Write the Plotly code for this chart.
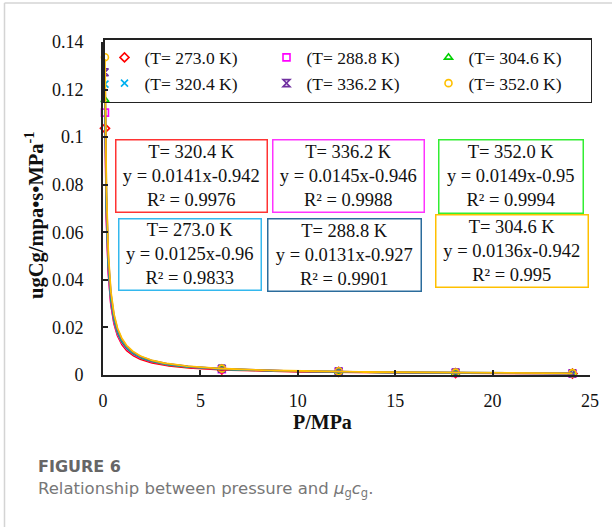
import numpy as np
import plotly.graph_objects as go

# ---------------- data ----------------
temperatures = ["273.0", "288.8", "304.6", "320.4", "336.2", "352.0"]
pressure = [0.1, 6.1, 12.1, 18.1, 24.1]
mu_c_273 = [0.1037, 0.0023, 0.0013, 0.0008, 0.0006]
mu_c_288 = [0.1103, 0.0024, 0.0014, 0.0009, 0.0006]
mu_c_304 = [0.1156, 0.0025, 0.0014, 0.0009, 0.0007]
mu_c_320 = [0.1223, 0.0026, 0.0015, 0.0010, 0.0007]
mu_c_336 = [0.1273, 0.0027, 0.0015, 0.0010, 0.0007]
mu_c_352 = [0.1336, 0.0027, 0.0016, 0.0010, 0.0008]
series_values = [mu_c_273, mu_c_288, mu_c_304, mu_c_320, mu_c_336, mu_c_352]

# power-law trendline fits shown in the chart (y = a * x^b)
fit_a = [0.0125, 0.0131, 0.0136, 0.0141, 0.0145, 0.0149]
fit_b = [-0.96, -0.927, -0.942, -0.942, -0.946, -0.95]
fit_r2 = ["0.9833", "0.9901", "0.995", "0.9976", "0.9988", "0.9994"]
fit_b_text = ["-0.96", "-0.927", "-0.942", "-0.942", "-0.946", "-0.95"]

x_ticks = [0, 5, 10, 15, 20, 25]
y_ticks = [0, 0.02, 0.04, 0.06, 0.08, 0.1, 0.12, 0.14]

# ---------------- styles ----------------
colors = ["#FF0000", "#FF00FF", "#00D000", "#00B0F0", "#7030A0", "#FFC000"]
symbols = ["diamond-open", "square-open", "triangle-up-open", "x-thin-open",
           "hourglass-open", "circle-open"]

SERIF = "Liberation Serif"
W, H = 612, 527
L, R, T, B = 103, 22, 42, 152
PW, PH = W - L - R, H - T - B


def px_x(px):
    return (px - L) / PW


def px_y(py):
    return (H - B - py) / PH


fig = go.Figure()

for i, t in enumerate(temperatures):
    fig.add_trace(go.Scatter(
        x=pressure, y=series_values[i], mode="markers",
        name=f"(T= {t} K)",
        marker=dict(symbol=symbols[i], size=7, color=colors[i],
                    line=dict(width=1.6, color=colors[i])),
        cliponaxis=False,
    ))

xs = np.geomspace(pressure[0], pressure[-1], 300)
for i, t in enumerate(temperatures):
    fig.add_trace(go.Scatter(
        x=xs, y=fit_a[i] * xs ** fit_b[i], mode="lines",
        line=dict(color=colors[i], width=1.8),
        showlegend=False, hoverinfo="skip",
    ))

# ---------------- trendline label boxes ----------------
# (series index, box colour, left px, top px, width px, height px)
boxes = [
    (3, "#FF3333", 115, 139, 151, 72),
    (4, "#FF33FF", 272, 139, 151, 72),
    (5, "#33EE33", 438, 139, 144, 73),
    (0, "#33B8EE", 118, 218, 142, 71),
    (1, "#2B6C9C", 267, 218, 153, 72),
    (2, "#FFC000", 435, 214, 152, 72),
]
annotations = []
for idx, col, bl, bt, bw_, bh in boxes:
    txt = (f"T= {temperatures[idx]} K<br>y = {fit_a[idx]}x{fit_b_text[idx]}"
           f"<br>R² = {fit_r2[idx]}")
    annotations.append(dict(
        x=px_x(bl), y=px_y(bt), xref="paper", yref="paper",
        xanchor="left", yanchor="top", showarrow=False, align="center",
        text=txt, font=dict(family=SERIF, size=18.5, color="#111"),
        bordercolor=col, borderwidth=1.5, borderpad=0, bgcolor="white",
        width=bw_ - 1.5, height=bh - 1.5, valign="middle",
    ))

# axis titles
annotations.append(dict(
    x=px_x(35), y=px_y(215), xref="paper", yref="paper", showarrow=False,
    text="<b>ugCg/mpa•s•MPa<sup>-1</sup></b>", textangle=-90,
    font=dict(family=SERIF, size=20.5, color="#111"),
    xanchor="center", yanchor="middle"))
annotations.append(dict(
    x=px_x(322), y=px_y(422), xref="paper", yref="paper", showarrow=False,
    text="<b>P/MPa</b>", font=dict(family=SERIF, size=20, color="#111"),
    xanchor="center", yanchor="middle"))

# caption
annotations.append(dict(
    x=px_x(36), y=px_y(466), xref="paper", yref="paper", showarrow=False,
    text="<b>FIGURE 6</b>", font=dict(family="DejaVu Sans", size=16, color="#666"),
    xanchor="left", yanchor="middle"))
annotations.append(dict(
    x=px_x(36), y=px_y(489), xref="paper", yref="paper", showarrow=False,
    text="Relationship between pressure and <i>μ</i><sub>g</sub><i>c</i><sub>g</sub>.",
    font=dict(family="DejaVu Sans", size=16.5, color="#777"),
    xanchor="left", yanchor="middle"))

# card border (left and top)
shapes = [
    dict(type="line", xref="paper", yref="paper",
         x0=px_x(4.5), x1=px_x(4.5), y0=px_y(3), y1=px_y(H),
         line=dict(color="#d4d4d4", width=1.5)),
    dict(type="line", xref="paper", yref="paper",
         x0=px_x(4.5), x1=px_x(W), y0=px_y(3), y1=px_y(3),
         line=dict(color="#d4d4d4", width=1.5)),
]

fig.update_layout(
    width=W, height=H,
    margin=dict(l=L, r=R, t=T, b=B, autoexpand=False),
    paper_bgcolor="white", plot_bgcolor="white",
    font=dict(family=SERIF, size=18, color="#111"),
    showlegend=True,
    legend=dict(
        orientation="h", x=0, y=px_y(38), xanchor="left", yanchor="top",
        bordercolor="#222", borderwidth=1.5, bgcolor="rgba(255,255,255,0)",
        entrywidth=117, entrywidthmode="pixels",
        font=dict(family=SERIF, size=17.5, color="#111"),
        traceorder="normal",
    ),
    annotations=annotations,
    shapes=shapes,
)

fig.update_xaxes(
    range=[0, 25], tickvals=x_ticks, showgrid=False, zeroline=False,
    showline=True, linecolor="#222", linewidth=2,
    ticks="inside", ticklen=5, tickwidth=1.5, tickcolor="#222",
    tickfont=dict(family=SERIF, size=18, color="#111"),
    ticklabelstandoff=8,
)
fig.update_yaxes(
    range=[0, 0.14], tickvals=y_ticks, showgrid=False, zeroline=False,
    showline=True, linecolor="#222", linewidth=2,
    ticks="inside", ticklen=5, tickwidth=1.5, tickcolor="#222",
    tickfont=dict(family=SERIF, size=18, color="#111"),
    ticklabelstandoff=14,
)

fig.write_html("out.html", config={"displayModeBar": False},
               post_script="document.body.style.margin='0';document.body.style.padding='0';")
